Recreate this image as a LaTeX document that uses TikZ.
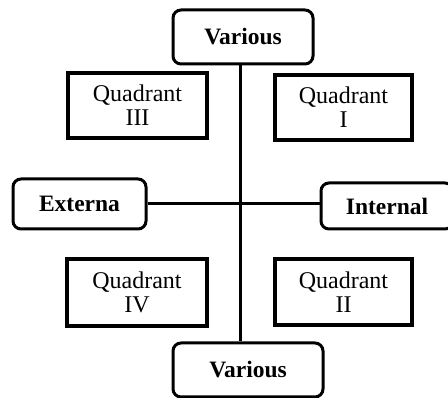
\documentclass[tikz,border=0pt]{standalone}
\usepackage{fontspec}
\setmainfont{Liberation Serif}

\begin{document}
\begin{tikzpicture}[x=1pt, y=-1pt,
	axisbox/.style={draw, line width=3pt, rounded corners=8pt, inner sep=0pt, font=\fontsize{23.5}{23.5}\selectfont\bfseries},
	quadbox/.style={draw, line width=4pt, inner sep=0pt, align=center, font=\fontsize{24}{24}\selectfont},
	link/.style={line width=3pt}]
	\useasboundingbox (0,0) rectangle (448,398);

	\node [axisbox, minimum width=140pt, minimum height=54pt] (top) at (243,37) {Various};
	\node [axisbox, minimum width=150pt, minimum height=54pt] (bottom) at (248,370) {Various};
	\node [axisbox, minimum width=133pt, minimum height=50pt] (ext) at (79.5,204) {Externa};
	\node [axisbox, minimum width=132pt, minimum height=46pt] (int) at (387,206) {Internal};

	\coordinate (mid) at (240,204);
	\draw [link] (top.south -| mid) -- (bottom.north -| mid);
	\draw [link] (ext.east |- mid) -- (int.west |- mid);

	\node [quadbox, minimum width=139pt, minimum height=65pt] (q3) at (137.5,105.5) {Quadrant\\III};
	\node [quadbox, minimum width=137pt, minimum height=65pt] (q1) at (343.5,107.5) {Quadrant\\I};
	\node [quadbox, minimum width=140pt, minimum height=67pt] (q4) at (137,292.5) {Quadrant\\IV};
	\node [quadbox, minimum width=137pt, minimum height=66pt] (q2) at (343.5,292) {Quadrant\\II};
\end{tikzpicture}
\end{document}
